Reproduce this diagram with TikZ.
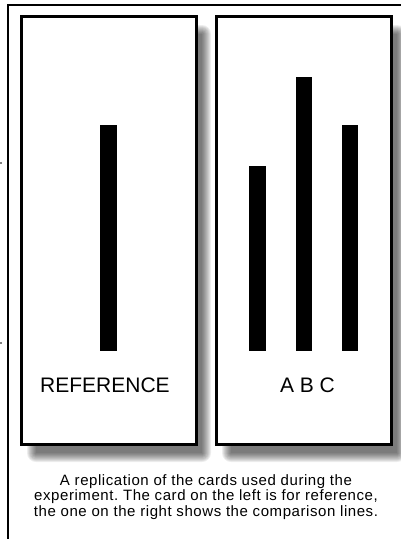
\documentclass[tikz,border=0pt]{standalone}
\usepackage{fontspec}
\setmainfont{Liberation Sans}
\newfontfamily\capfont[LetterSpace=3.8]{Liberation Sans}
\frenchspacing
\begin{document}
\begin{tikzpicture}[x=1pt,y=-1pt,
  card/.style={draw=black,line width=3pt,fill=white},
  bar/.style={fill=black,draw=none},
  frameline/.style={draw=black,line width=2.6pt},
  lbl/.style={font=\fontsize{21}{25}\selectfont,anchor=base,inner sep=0pt},
  captext/.style={font=\capfont\fontsize{15}{15}\selectfont,anchor=base,inner sep=0pt},
  tickmark/.style={draw=gray,line width=1.5pt}]
\useasboundingbox (0,0) rectangle (400,539);
% outer frame
\coordinate (fb) at (8,541);
\coordinate (fc) at (8,5);
\coordinate (fr) at (402,5);
\draw[frameline] (fb) -- (fc) -- (fr);
% small ticks at the left edge
\coordinate (t1a) at (0,163); \coordinate (t1b) at (2,163);
\coordinate (t2a) at (0,343); \coordinate (t2b) at (2,343);
\draw[tickmark] (t1a) -- (t1b);
\draw[tickmark] (t2a) -- (t2b);
% shadows
\foreach \i in {0,...,9}{
  \fill[black,opacity=0.07,rounded corners=\i pt]
    ({21+6-\i+9},{16+9-\i+9}) rectangle ({196+6+\i-9+9},{444+9+\i-9+9});
  \fill[black,opacity=0.07,rounded corners=\i pt]
    ({216+6-\i+9},{16+9-\i+9}) rectangle ({391+6+\i-9+9},{444+9+\i-9+9});
}
% cards
\draw[card] (21,16) rectangle (196,444);
\draw[card] (216,16) rectangle (391,444);
% bars
\fill[bar] (100,125) rectangle (117,351);
\fill[bar] (249,166) rectangle (266,351);
\fill[bar] (296,77) rectangle (312,351);
\fill[bar] (342,125) rectangle (358,351);
% labels
\node[lbl] (ref) at (105,392) {REFERENCE};
\node[lbl] (abc) at (307.5,392) {A B C};
% caption
\node[captext] (c1) at (206,485.7) {A replication of the cards used during the};
\node[captext] (c2) at (206,500.7) {experiment. The card on the left is for reference,};
\node[captext] (c3) at (206,516) {the one on the right shows the comparison lines.};
\end{tikzpicture}
\end{document}
